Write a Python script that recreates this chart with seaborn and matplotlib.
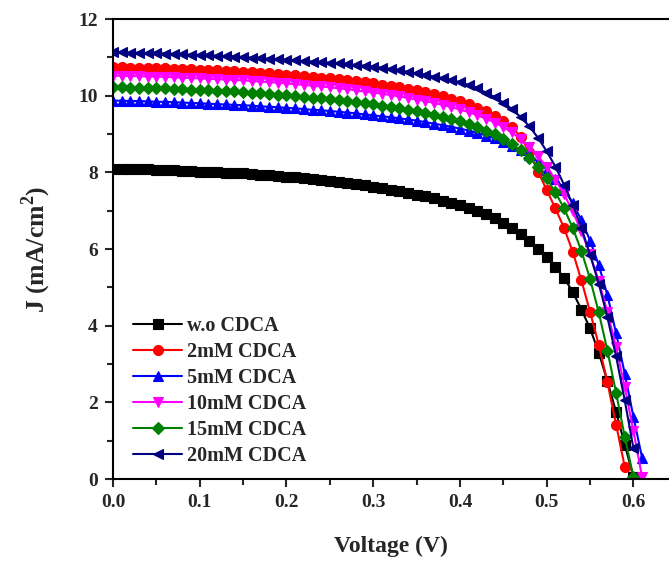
import numpy as np
import pandas as pd
import matplotlib
matplotlib.use("Agg")
import matplotlib.pyplot as plt
import seaborn as sns
from matplotlib.ticker import MultipleLocator

# ---------------- data ----------------
voltage = [0.00, 0.01, 0.02, 0.03, 0.04, 0.05, 0.06, 0.07, 0.08, 0.09,
           0.10, 0.11, 0.12, 0.13, 0.14, 0.15, 0.16, 0.17, 0.18, 0.19,
           0.20, 0.21, 0.22, 0.23, 0.24, 0.25, 0.26, 0.27, 0.28, 0.29,
           0.30, 0.31, 0.32, 0.33, 0.34, 0.35, 0.36, 0.37, 0.38, 0.39,
           0.40, 0.41, 0.42, 0.43, 0.44, 0.45, 0.46, 0.47, 0.48, 0.49,
           0.50, 0.51, 0.52, 0.53, 0.54, 0.55, 0.56, 0.57, 0.58, 0.59,
           0.60, 0.61]

j_wo = [8.10, 8.10, 8.09, 8.09, 8.08, 8.07, 8.06, 8.05, 8.04, 8.03,
        8.02, 8.01, 8.00, 7.99, 7.98, 7.97, 7.95, 7.94, 7.92, 7.91,
        7.89, 7.87, 7.85, 7.83, 7.80, 7.78, 7.75, 7.72, 7.69, 7.66,
        7.62, 7.59, 7.55, 7.51, 7.47, 7.42, 7.37, 7.32, 7.26, 7.20,
        7.14, 7.07, 7.00, 6.91, 6.80, 6.68, 6.54, 6.38, 6.20, 6.00,
        5.78, 5.53, 5.25, 4.88, 4.42, 3.93, 3.30, 2.55, 1.75, 0.90,
        0.05]

j_2mm = [10.74, 10.74, 10.73, 10.73, 10.72, 10.72, 10.71, 10.70, 10.69, 10.69,
         10.68, 10.67, 10.66, 10.65, 10.64, 10.62, 10.61, 10.60, 10.58, 10.56,
         10.55, 10.53, 10.51, 10.49, 10.47, 10.45, 10.43, 10.40, 10.38, 10.35,
         10.32, 10.29, 10.26, 10.22, 10.18, 10.14, 10.09, 10.04, 9.98, 9.92,
         9.85, 9.78, 9.69, 9.59, 9.47, 9.34, 9.17, 8.93, 8.52, 8.02,
         7.54, 7.06, 6.55, 5.93, 5.18, 4.36, 3.50, 2.52, 1.42, 0.32]

j_5mm = [9.87, 9.87, 9.86, 9.86, 9.85, 9.84, 9.84, 9.83, 9.82, 9.81,
         9.80, 9.79, 9.78, 9.77, 9.76, 9.75, 9.74, 9.72, 9.71, 9.70,
         9.68, 9.67, 9.65, 9.63, 9.62, 9.60, 9.58, 9.56, 9.54, 9.51,
         9.49, 9.46, 9.44, 9.41, 9.38, 9.35, 9.31, 9.27, 9.23, 9.19,
         9.14, 9.09, 9.03, 8.96, 8.89, 8.80, 8.70, 8.58, 8.44, 8.27,
         8.07, 7.83, 7.55, 7.20, 6.75, 6.22, 5.58, 4.80, 3.80, 2.75,
         1.62, 0.55]

j_10mm = [10.52, 10.52, 10.51, 10.51, 10.50, 10.50, 10.49, 10.48, 10.47, 10.46,
          10.45, 10.44, 10.43, 10.42, 10.41, 10.40, 10.38, 10.37, 10.35, 10.34,
          10.32, 10.30, 10.28, 10.26, 10.24, 10.22, 10.19, 10.17, 10.14, 10.11,
          10.08, 10.05, 10.02, 9.98, 9.94, 9.90, 9.86, 9.81, 9.76, 9.70,
          9.64, 9.57, 9.49, 9.40, 9.30, 9.18, 9.04, 8.87, 8.66, 8.42,
          8.14, 7.81, 7.43, 6.98, 6.46, 5.86, 5.16, 4.36, 3.44, 2.40,
          1.25, 0.05]

j_15mm = [10.22, 10.22, 10.21, 10.21, 10.20, 10.19, 10.19, 10.18, 10.17, 10.16,
          10.15, 10.14, 10.13, 10.12, 10.11, 10.09, 10.08, 10.06, 10.05, 10.03,
          10.01, 9.99, 9.97, 9.95, 9.93, 9.91, 9.88, 9.86, 9.83, 9.80,
          9.77, 9.74, 9.71, 9.67, 9.63, 9.59, 9.55, 9.50, 9.45, 9.39,
          9.33, 9.26, 9.18, 9.09, 8.99, 8.87, 8.73, 8.57, 8.38, 8.14,
          7.84, 7.48, 7.06, 6.55, 5.95, 5.22, 4.35, 3.35, 2.25, 1.10,
          0.05]

j_20mm = [11.13, 11.13, 11.12, 11.12, 11.11, 11.11, 11.10, 11.09, 11.08, 11.07,
          11.06, 11.05, 11.04, 11.03, 11.02, 11.01, 10.99, 10.98, 10.96, 10.95,
          10.93, 10.92, 10.90, 10.89, 10.87, 10.86, 10.84, 10.82, 10.80, 10.78,
          10.76, 10.73, 10.70, 10.66, 10.62, 10.58, 10.54, 10.50, 10.46, 10.41,
          10.35, 10.28, 10.19, 10.08, 9.96, 9.82, 9.65, 9.44, 9.20, 8.90,
          8.55, 8.15, 7.68, 7.15, 6.55, 5.85, 5.10, 4.22, 3.20, 2.05,
          0.80]

labels = ["w.o CDCA", "2mM CDCA", "5mM CDCA", "10mM CDCA", "15mM CDCA", "20mM CDCA"]
series = [j_wo, j_2mm, j_5mm, j_10mm, j_15mm, j_20mm]
colors = ["#000000", "#FF0000", "#0000FF", "#FF00FF", "#008000", "#000080"]
markers = ["s", "o", "^", "v", "D", "<"]

x_ticks = [0.0, 0.1, 0.2, 0.3, 0.4, 0.5, 0.6]
y_ticks = [0, 2, 4, 6, 8, 10, 12]

# ---------------- style ----------------
sns.set_style("ticks")
plt.rcParams["font.family"] = ["Liberation Serif", "DejaVu Serif"]
plt.rcParams["font.weight"] = "bold"
plt.rcParams["axes.labelweight"] = "bold"
plt.rcParams["mathtext.fontset"] = "custom"
plt.rcParams["mathtext.rm"] = "Liberation Serif:bold"
plt.rcParams["mathtext.bf"] = "Liberation Serif:bold"

fig = plt.figure(figsize=(6.69, 5.65), dpi=100)
ax = fig.add_axes([113 / 669, 1 - 479 / 565, 1 - 113 / 669, (479 - 19) / 565])

frames = []
for lab, js in zip(labels, series):
    frames.append(pd.DataFrame({"V": voltage[:len(js)], "J": js, "sample": lab}))
df = pd.concat(frames, ignore_index=True)

for lab, col, mk in zip(labels, colors, markers):
    sub = df[df["sample"] == lab]
    ms = 6.3 if mk == "D" else 7.2
    sns.lineplot(data=sub, x="V", y="J", ax=ax, color=col, marker=mk,
                 markersize=ms, markeredgecolor=col, markeredgewidth=0.8,
                 linewidth=1.5, label=lab, sort=False, estimator=None)

ax.set_xlim(0, 0.641)
ax.set_ylim(0, 12)
ax.set_xticks(x_ticks)
ax.set_yticks(y_ticks)
ax.set_xticklabels([f"{t:.1f}" for t in x_ticks])
ax.set_yticklabels([str(t) for t in y_ticks])
ax.xaxis.set_minor_locator(MultipleLocator(0.05))
ax.yaxis.set_minor_locator(MultipleLocator(1))
ax.tick_params(which="major", direction="out", length=6, width=1.5,
               labelsize=14, pad=5)
ax.tick_params(which="minor", direction="out", length=4, width=1.5)
for lbl in ax.get_xticklabels() + ax.get_yticklabels():
    lbl.set_fontweight("bold")
for s in ["left", "bottom", "top"]:
    ax.spines[s].set_linewidth(1.5)
    ax.spines[s].set_color("black")
ax.spines["right"].set_visible(False)

ax.set_xlabel("Voltage (V)", fontsize=17, fontweight="bold", labelpad=18)
ax.set_ylabel(r"J (mA/cm$^{\mathbf{2}}$)", fontsize=18.5, fontweight="bold", labelpad=18)

leg = ax.legend(loc="lower left", bbox_to_anchor=(0.036, 0.028), frameon=False,
                prop={"family": "Liberation Serif", "weight": "bold", "size": 14.5},
                handlelength=2.45, handletextpad=0.25, labelspacing=0.3,
                borderaxespad=0.0, borderpad=0.0)

fig.savefig("out.png", dpi=100)
